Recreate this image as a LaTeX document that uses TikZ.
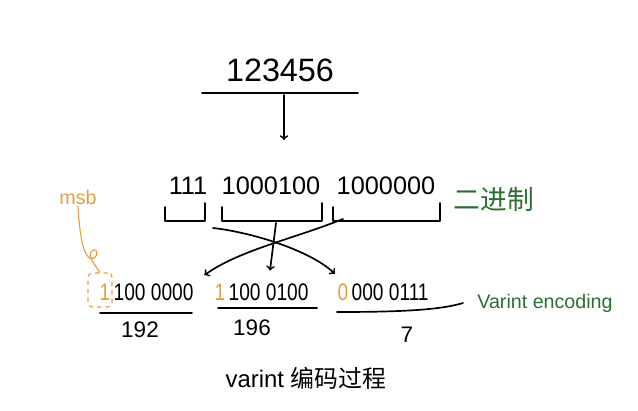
\documentclass[tikz,border=0pt]{standalone}
\usepackage{fontspec}
\setmainfont{Liberation Sans}
\newfontfamily\cjk{Noto Sans CJK SC}
\newfontfamily\narrowdigits[FakeStretch=0.8]{Liberation Sans}
\definecolor{msborange}{RGB}{226,158,62}
\definecolor{notegreen}{RGB}{44,110,50}
\begin{document}
\begin{tikzpicture}[x=0.025cm,y=-0.025cm,
	every node/.style={inner sep=1pt},
	hand/.style={line width=1.2pt,line cap=round,line join=round},
	digits/.style={font=\fontsize{18}{21}\selectfont},
	bytes/.style={font=\narrowdigits\fontsize{17}{20}\selectfont},
	note/.style={text=notegreen,font=\fontsize{14}{17}\selectfont}]
\useasboundingbox (0,0) rectangle (638,410);
% the number and its binary form
\node[font=\fontsize{23}{26}\selectfont] (num) at (280,70) {123456};
\draw[hand] (202,93) -- (358,93);
\coordinate (num-cut) at (284,95);
\coordinate (bin-top) at (284,140);
\draw[->,hand] (num-cut) -- (bin-top);
\foreach \name/\x/\bits in {hi/188/111, mid/271/1000100, lo/386/1000000} {
	\node[digits] (bin-\name) at (\x,186) {\bits};
}
\node[note,font=\cjk\fontsize{19}{22}\selectfont] (binlabel) at (494,199) {二进制};
% groups of seven bits
\foreach \l/\r in {165/205, 222/322, 333/440} {
	\draw[hand] (\l,207) -- (\l,221) -- (\r,221) -- (\r,203);
}
\coordinate (grp-hi) at (213,228);
\coordinate (grp-mid) at (276,223);
\coordinate (grp-lo) at (343,219);
% the three encoded bytes
\foreach \i/\x/\first/\rest/\val/\vx/\vy in {1/105/1/100 0000/192/140/330, 2/220/1/100 0100/196/252/328, 3/343/0/000 0111/7/407/335} {
	\node[bytes,text=msborange,anchor=base] (msb-\i) at (\x,300) {\first};
	\node[bytes,anchor=base west] (rest-\i) at (msb-\i.base east) {\rest};
	\node[font=\fontsize{16}{19}\selectfont] (val-\i) at (\vx,\vy) {\val};
}
\draw[hand] (100,313) -- (192,313);
\draw[hand] (218,308) -- (317,308);
\node[note] (enc) at (545,303) {Varint encoding};
\draw[hand] (337,312) .. controls (400,312) and (440,310) .. ([xshift=-9pt]enc.west);
\draw[->,hand,shorten >=8pt] (grp-lo) .. controls (290,240) and (240,250) .. (rest-1.north east);
\draw[->,hand,shorten >=8pt] (grp-mid) -- (rest-2.north);
\draw[->,hand,shorten >=8pt] (grp-hi) .. controls (250,232) and (310,250) .. (msb-3.north);
% msb mark
\node[draw=msborange,dashed,thick,rounded corners=3pt,minimum width=0.6cm,minimum height=0.85cm] (msbbox) at (100,290) {};
\node[text=msborange,font=\fontsize{14}{17}\selectfont] (msbtxt) at (78,197) {msb};
\draw[msborange,thick] (msbtxt.south) .. controls (80,245) and (86,262) .. (94,258) .. controls (100,254) and (96,246) .. (91,252) .. controls (88,256) and (94,264) .. (msbbox.north);
% caption
\node[font=\fontsize{17}{20}\selectfont] (caption) at (306,378) {varint {\cjk 编码过程}};
\end{tikzpicture}
\end{document}
